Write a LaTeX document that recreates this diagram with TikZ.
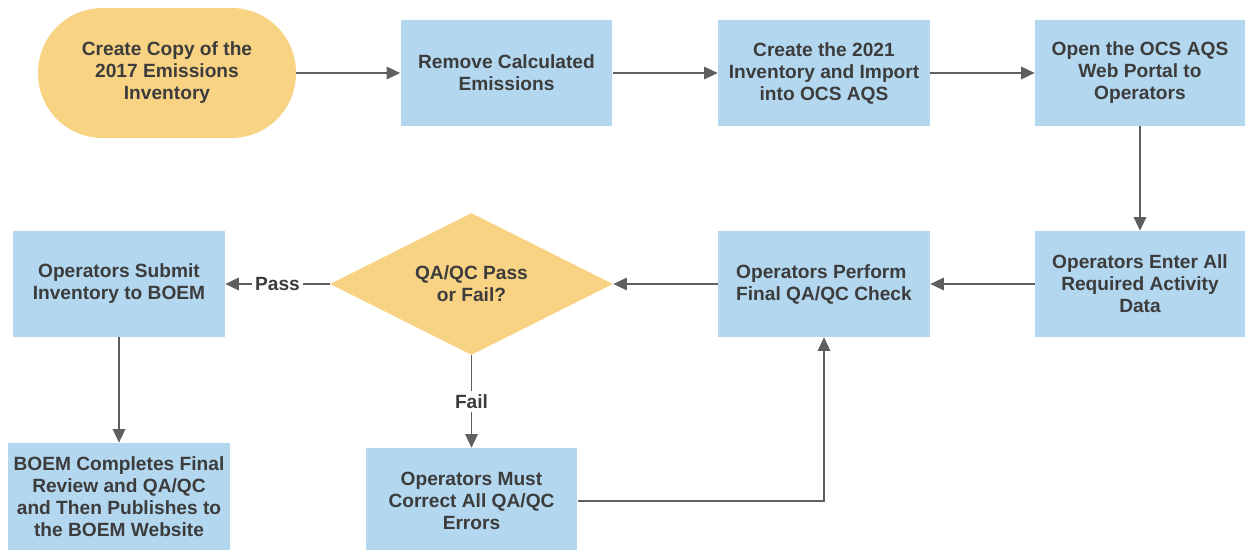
\documentclass[tikz,border=0pt]{standalone}
\usepackage{fontspec}
\setmainfont{Liberation Sans}
\usetikzlibrary{shapes.geometric,arrows.meta}
\definecolor{boxblue}{HTML}{B3D7EF}
\definecolor{boxyellow}{HTML}{F9D384}
\definecolor{txtgray}{HTML}{3C3C3C}
\definecolor{linegray}{HTML}{5F5F5F}
\tikzset{
  every node/.style={font=\bfseries\fontsize{10.9}{12.5}\selectfont, text=txtgray},
  bluebox/.style={rectangle, fill=boxblue, minimum width=4.24cm, minimum height=2.12cm, align=center, inner sep=0pt},
  startbox/.style={rectangle, rounded corners=1.29cm, fill=boxyellow, minimum width=5.16cm, minimum height=2.6cm, align=center, inner sep=0pt},
  decbox/.style={diamond, aspect=2, fill=boxyellow, minimum width=5.66cm, minimum height=2.84cm, align=center, inner sep=0pt},
  flow/.style={draw=linegray, line width=0.85pt, -{Triangle[length=0.27cm,width=0.25cm]}, color=linegray},
  elabel/.style={fill=white, inner sep=2pt}
}
\begin{document}
\begin{tikzpicture}[x=0.02cm,y=-0.02cm]
\useasboundingbox (0,0) rectangle (1245,550);
\node[startbox] (start) at (167,73) {\raisebox{-2pt}{\begin{tabular}{@{}c@{}}Create Copy of the\\2017 Emissions\\Inventory\end{tabular}}};
\node[bluebox] (remove) at (506.5,73) {Remove Calculated\\Emissions};
\node[bluebox] (create) at (824,73) {Create the 2021\\Inventory and Import\\into OCS AQS};
\node[bluebox, minimum width=4.2cm] (open) at (1140,73) {Open the OCS AQS\\Web Portal to\\Operators};
\node[bluebox, minimum width=4.2cm] (enter) at (1140,284) {Operators Enter All\\Required Activity\\Data};
\node[bluebox, align=left] (perform) at (824,284) {Operators Perform\\Final QA/QC Check};
\node[decbox] (dec) at (471.5,284) {QA/QC Pass\\or Fail?};
\node[bluebox] (submit) at (119,284) {Operators Submit\\Inventory to BOEM};
\node[bluebox, minimum width=4.44cm, minimum height=2.16cm] (boem) at (119,497) {BOEM Completes Final\\Review and QA/QC\\and Then Publishes to\\the BOEM Website};
\node[bluebox] (correct) at (471.5,501) {Operators Must\\Correct All QA/QC\\Errors};

\draw[flow] (start) -- (remove);
\draw[flow] (remove) -- (create);
\draw[flow] (create) -- (open);
\draw[flow] (open) -- (enter);
\draw[flow] (enter) -- (perform);
\draw[flow] (perform) -- (dec);
\draw[flow] (dec) -- node[elabel] (passlbl) {Pass} (submit);
\draw[flow] (dec) -- node[elabel] (faillbl) {Fail} (correct);
\draw[flow] (correct.east) -| (perform.south);
\draw[flow] (submit) -- (boem);
\end{tikzpicture}
\end{document}
